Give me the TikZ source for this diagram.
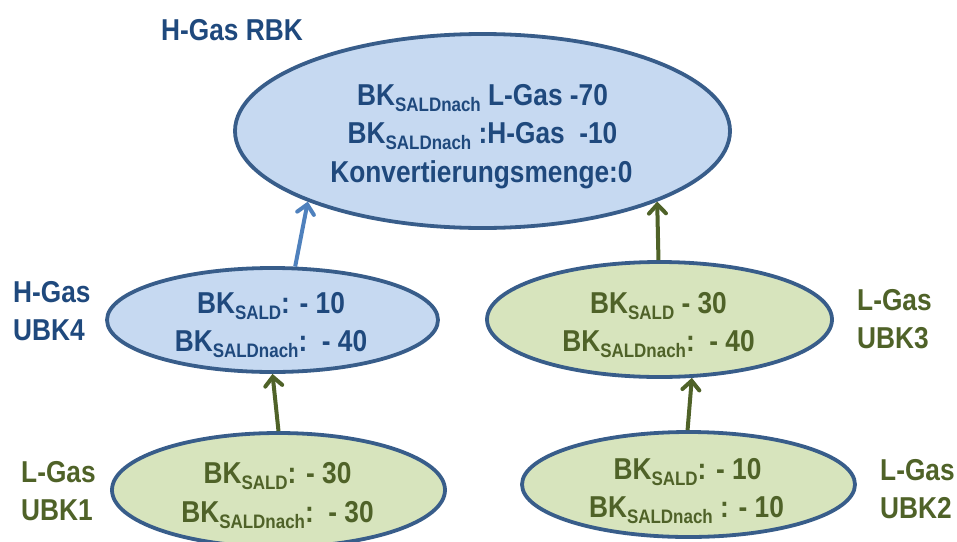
\documentclass[tikz,border=0pt]{standalone}
\usepackage{fontspec}
\setmainfont{Liberation Sans}[FakeStretch=0.87]
\usetikzlibrary{arrows.meta,shapes.geometric}
\definecolor{txtblue}{RGB}{31,73,125}
\definecolor{txtgreen}{RGB}{79,98,40}
\definecolor{rimblue}{RGB}{56,93,138}
\definecolor{fillblue}{RGB}{198,217,241}
\definecolor{fillgreen}{RGB}{215,228,189}
\definecolor{arrblue}{RGB}{79,129,189}
\definecolor{arrgreen}{RGB}{79,98,40}
% lowered small index text
\newcommand{\idx}[1]{\raisebox{-6pt}{\fontsize{19.5}{19.5}\selectfont #1}}
\tikzset{
  oval/.style={ellipse, draw=rimblue, line width=3.8pt, inner sep=0pt},
  bluecell/.style={oval, fill=fillblue},
  greencell/.style={oval, fill=fillgreen},
  txt/.style={inner sep=0pt, anchor=base, font=\fontsize{30.2}{36}\selectfont\bfseries},
  sidetxt/.style={txt, anchor=base west},
  flow/.style={line width=4pt, -{Straight Barb[length=9pt,width=17pt,line cap=round]}},
}
\begin{document}
\begin{tikzpicture}[x=1pt,y=-1pt]
\useasboundingbox (0,0) rectangle (957,541);

% ellipses
\node[bluecell, minimum width=495pt, minimum height=194pt] (rbk) at (482.5,131) {};
\node[bluecell, minimum width=331pt, minimum height=104pt] (ubk4) at (272.5,320) {};
\node[greencell, minimum width=345pt, minimum height=115pt] (ubk3) at (659.5,319.5) {};
\node[greencell, minimum width=333pt, minimum height=114pt] (ubk1) at (278.5,490) {};
\node[greencell, minimum width=333pt, minimum height=105pt] (ubk2) at (688.5,484.5) {};

% connectors
\draw[flow, arrblue] (ubk4.67) -- (rbk.202);
\draw[flow, arrgreen] (ubk3.91) -- (rbk.338);
\draw[flow, arrgreen] (ubk1.90) -- (ubk4.270);
\draw[flow, arrgreen] (ubk2.91) -- (ubk3.299);

% regional balancing group
\node[sidetxt, txtblue] (rbkname) at (161,40) {H-Gas RBK};
\node[txt, txtblue] (rbka) at (482.5,105) {BK\idx{SALDnach} L-Gas -70};
\node[txt, txtblue] (rbkb) at (482.5,143) {BK\idx{SALDnach} :H-Gas\ \ -10};
\node[txt, txtblue] (rbkc) at (481.5,182) {Konvertierungsmenge:0};

% UBK4
\node[sidetxt, txtblue] (ubk4n1) at (13,302) {H-Gas};
\node[sidetxt, txtblue] (ubk4n2) at (13,340) {UBK4};
\node[txt, txtblue] (ubk4a) at (271,313) {BK\idx{SALD}: - 10};
\node[txt, txtblue] (ubk4b) at (271,351) {BK\idx{SALDnach}:\ \ - 40};

% UBK3
\node[sidetxt, txtgreen] (ubk3n1) at (857,310) {L-Gas};
\node[sidetxt, txtgreen] (ubk3n2) at (857,348) {UBK3};
\node[txt, txtgreen] (ubk3a) at (658.5,313) {BK\idx{SALD} - 30};
\node[txt, txtgreen] (ubk3b) at (658.5,351) {BK\idx{SALDnach}:\ \ - 40};

% UBK1
\node[sidetxt, txtgreen] (ubk1n1) at (21,482) {L-Gas};
\node[sidetxt, txtgreen] (ubk1n2) at (21,520) {UBK1};
\node[txt, txtgreen] (ubk1a) at (277.5,483) {BK\idx{SALD}: - 30};
\node[txt, txtgreen] (ubk1b) at (277.5,522) {BK\idx{SALDnach}:\ \ - 30};

% UBK2
\node[sidetxt, txtgreen] (ubk2n1) at (880,480) {L-Gas};
\node[sidetxt, txtgreen] (ubk2n2) at (880,518) {UBK2};
\node[txt, txtgreen] (ubk2a) at (687.5,479) {BK\idx{SALD}: - 10};
\node[txt, txtgreen] (ubk2b) at (686.5,517) {BK\idx{SALDnach} : - 10};
\end{tikzpicture}
\end{document}
